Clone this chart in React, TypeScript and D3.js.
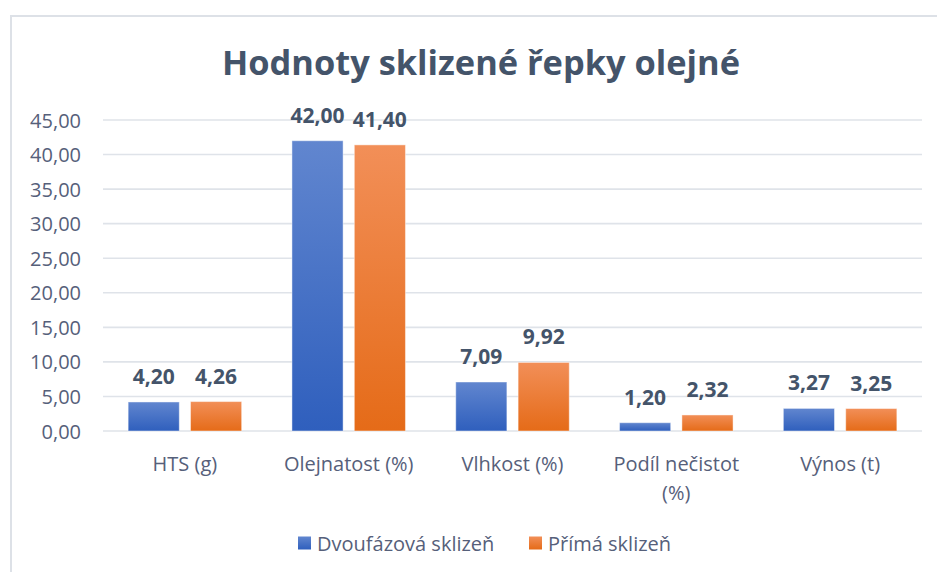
import * as d3 from "d3";

const categories = ["HTS (g)", "Olejnatost (%)", "Vlhkost (%)", "Podíl nečistot (%)", "Výnos (t)"];
const seriesNames = ["Dvoufázová sklizeň", "Přímá sklizeň"];
const dvoufazova = [4.2, 42.0, 7.09, 1.2, 3.27];
const prima = [4.26, 41.4, 9.92, 2.32, 3.25];
const yTickValues = [0, 5, 10, 15, 20, 25, 30, 35, 40, 45];
const title = "Hodnoty sklizené řepky olejné";

const width = 937;
const height = 572;
const margin = { top: 120, right: 15, bottom: 141, left: 103 };

const font = "'Open Sans', 'DejaVu Sans', sans-serif";
const gradients = [
  { id: "gBlue", top: "#6186cf", bottom: "#2f5fbd" },
  { id: "gOrange", top: "#f28f58", bottom: "#e56b18" },
];

const fmt = (v: number) => v.toFixed(2).replace(".", ",");

function wrapLabel(label: string) {
  if (label.length <= 15) return [label];
  const i = label.lastIndexOf(" ");
  return [label.slice(0, i), label.slice(i + 1)];
}

function App() {
  const values = [dvoufazova, prima];

  const x = d3
    .scaleBand()
    .domain(categories)
    .range([margin.left, width - margin.right])
    .padding(0);
  const bw = x.bandwidth();
  const groupW = bw * 0.693;
  const xInner = d3
    .scaleBand()
    .domain(seriesNames)
    .range([(bw - groupW) / 2, (bw + groupW) / 2])
    .paddingInner(0.18)
    .paddingOuter(0);

  const y = d3
    .scaleLinear()
    .domain([0, 45])
    .range([height - margin.bottom, margin.top]);

  return (
    <svg
      width={width}
      height={height}
      viewBox={`0 0 ${width} ${height}`}
      style={{ position: "absolute", left: 0, top: 0, background: "#fff" }}
    >
      <defs>
        {gradients.map((g) => (
          <linearGradient key={g.id} id={g.id} x1="0" y1="0" x2="0" y2="1">
            <stop offset="0%" stopColor={g.top} />
            <stop offset="100%" stopColor={g.bottom} />
          </linearGradient>
        ))}
      </defs>

      {/* chart area border (cropped) */}
      <rect x={11} y={16} width={width + 20} height={height + 20} fill="none" stroke="#dde1e7" strokeWidth={2} />

      <text
        x={481}
        y={75}
        textAnchor="middle"
        fontFamily={font}
        fontWeight={700}
        fontSize={34}
        fill="#44546a"
        textLength={518}
        lengthAdjust="spacingAndGlyphs"
      >
        {title}
      </text>

      {/* gridlines + y labels */}
      {yTickValues.map((t) => (
        <g key={t}>
          <line
            x1={margin.left}
            x2={width - margin.right}
            y1={y(t)}
            y2={y(t)}
            stroke="#dfe3e9"
            strokeWidth={1.6}
          />
          <text
            x={81}
            y={y(t)}
            textAnchor="end"
            dominantBaseline="central"
            fontFamily={font}
            fontSize={20}
            fill="#56607a"
          >
            {fmt(t)}
          </text>
        </g>
      ))}

      {/* bars */}
      {categories.map((c, ci) => (
        <g key={c} transform={`translate(${x(c)},0)`}>
          {seriesNames.map((s, si) => {
            const v = values[si][ci];
            const bx = xInner(s)!;
            const top = y(v);
            return (
              <g key={s}>
                <rect
                  x={bx}
                  y={top}
                  width={xInner.bandwidth()}
                  height={y(0) - top}
                  fill={`url(#${gradients[si].id})`}
                  stroke="#ffffff"
                  strokeOpacity={0.45}
                  strokeWidth={1}
                />
                <text
                  x={bx + xInner.bandwidth() / 2}
                  y={top - 18}
                  textAnchor="middle"
                  fontFamily={font}
                  fontWeight={700}
                  fontSize={21}
                  fill="#44546a"
                >
                  {fmt(v)}
                </text>
              </g>
            );
          })}
          {wrapLabel(c).map((line, li) => (
            <text
              key={li}
              x={bw / 2}
              y={463 + li * 29}
              textAnchor="middle"
              dominantBaseline="central"
              fontFamily={font}
              fontSize={20}
              fill="#56607a"
            >
              {line}
            </text>
          ))}
        </g>
      ))}

      {/* legend */}
      {seriesNames.map((s, si) => {
        const lx = si === 0 ? 298 : 529;
        return (
          <g key={s} transform={`translate(${lx},543)`}>
            <rect x={0} y={-6.5} width={13} height={13} fill={`url(#${gradients[si].id})`} />
            <text
              x={19}
              y={0}
              dominantBaseline="central"
              fontFamily={font}
              fontSize={20}
              fill="#56607a"
            >
              {s}
            </text>
          </g>
        );
      })}
    </svg>
  );
}

export default App;
